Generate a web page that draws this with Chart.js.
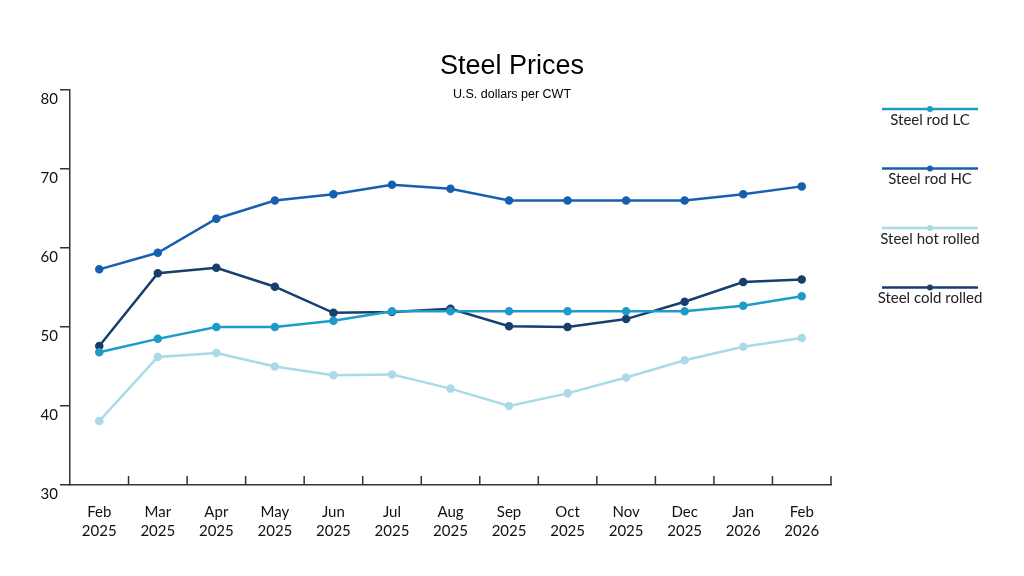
<!DOCTYPE html>
<html>
<head>
<meta charset="utf-8">
<script src="https://cdn.jsdelivr.net/npm/chart.js@4.4.1/dist/chart.umd.min.js"></script>
<style>
  html, body { margin: 0; padding: 0; background: #fff; }
  #wrap { width: 1024px; height: 576px; position: relative; }
</style>
</head>
<body>
<div id="wrap"><canvas id="steelChart"></canvas></div>
<script>
// 철강 가격 추이 (월별)
const months = [['Feb', '2025'], ['Mar', '2025'], ['Apr', '2025'], ['May', '2025'], ['Jun', '2025'], ['Jul', '2025'],
	['Aug', '2025'], ['Sep', '2025'], ['Oct', '2025'], ['Nov', '2025'], ['Dec', '2025'], ['Jan', '2026'], ['Feb', '2026']];

const rodLC = [46.8, 48.5, 50, 50, 50.8, 52, 52, 52, 52, 52, 52, 52.7, 53.9];
const rodHC = [57.3, 59.4, 63.7, 66, 66.8, 68, 67.5, 66, 66, 66, 66, 66.8, 67.8];
const hotRolled = [38.1, 46.2, 46.7, 45, 43.9, 44, 42.2, 40, 41.6, 43.6, 45.8, 47.5, 48.6];
const coldRolled = [47.6, 56.8, 57.5, 55.1, 51.8, 51.9, 52.3, 50.1, 50, 51, 53.2, 55.7, 56];

const yTicks = [30, 40, 50, 60, 70, 80];

const axisColor = '#333333';
const labelFont = 'Lato, "Open Sans", sans-serif';

function series(label, data, color) {
	return {
		label: label,
		data: data,
		borderColor: color,
		backgroundColor: color,
		borderWidth: 2.5,
		pointRadius: 3,
		pointHoverRadius: 4,
		tension: 0
	};
}

// 제목, 범례, 안쪽 눈금 직접 그리기
const decorations = {
	id: 'decorations',
	afterDraw(chart) {
		const ctx = chart.ctx;
		const area = chart.chartArea;
		const x = chart.scales.x;
		ctx.save();

		// x축 눈금 (위쪽으로)
		ctx.strokeStyle = axisColor;
		ctx.lineWidth = 1.5;
		for (let i = 1; i <= months.length; i++) {
			let px;
			if (i < months.length) {
				px = (x.getPixelForValue(i - 1) + x.getPixelForValue(i)) / 2;
			} else {
				px = area.right;
			}
			ctx.beginPath();
			ctx.moveTo(px, area.bottom);
			ctx.lineTo(px, area.bottom - 9);
			ctx.stroke();
		}

		// 제목
		ctx.fillStyle = '#000';
		ctx.textAlign = 'center';
		ctx.textBaseline = 'alphabetic';
		ctx.font = '27px "Liberation Sans", Arial, sans-serif';
		ctx.fillText('Steel Prices', 512, 73.5);
		ctx.font = '12.5px "Liberation Sans", Arial, sans-serif';
		ctx.fillText('U.S. dollars per CWT', 512, 97.5);

		// 범례
		chart.data.datasets.forEach(function(ds, i) {
			const cy = 109 + i * 59.5;
			ctx.strokeStyle = ds.borderColor;
			ctx.fillStyle = ds.borderColor;
			ctx.lineWidth = 2.5;
			ctx.beginPath();
			ctx.moveTo(882, cy);
			ctx.lineTo(978, cy);
			ctx.stroke();
			ctx.beginPath();
			ctx.arc(930, cy, 3, 0, Math.PI * 2);
			ctx.fill();
			ctx.fillStyle = '#222';
			ctx.font = '15px ' + labelFont;
			ctx.fillText(ds.label, 930, cy + 15.5);
		});
		ctx.restore();
	}
};

new Chart(document.getElementById('steelChart'), {
	type: 'line',
	data: {
		labels: months,
		datasets: [
			series('Steel rod LC', rodLC, '#1e9bc8'),
			series('Steel rod HC', rodHC, '#1760b0'),
			series('Steel hot rolled', hotRolled, '#a8dae7'),
			series('Steel cold rolled', coldRolled, '#183f6c')
		]
	},
	options: {
		responsive: true,
		maintainAspectRatio: false,
		animation: false,
		layout: {
			padding: { left: 0, right: 193, top: 90, bottom: 0 }
		},
		plugins: {
			legend: { display: false },
			title: { display: false },
			tooltip: { enabled: false }
		},
		scales: {
			x: {
				offset: true,
				grid: { display: false, drawTicks: false },
				border: { display: true, color: axisColor, width: 1.5 },
				ticks: {
					color: '#111',
					font: { family: labelFont, size: 15, lineHeight: 1.27 },
					padding: 18,
					maxRotation: 0,
					autoSkip: false
				},
				afterFit(scale) { scale.height = 91; }
			},
			y: {
				min: 30,
				max: 80,
				afterBuildTicks(scale) {
					scale.ticks = yTicks.map(function(v) { return { value: v }; });
				},
				grid: { drawOnChartArea: false, tickLength: 10, color: axisColor, lineWidth: 1.5 },
				border: { display: true, color: axisColor, width: 1.5 },
				ticks: {
					color: '#111',
					font: { family: labelFont, size: 15 },
					padding: 2,
					labelOffset: 9
				},
				afterFit(scale) { scale.width = 70; }
			}
		}
	},
	plugins: [decorations]
});
</script>
</body>
</html>
